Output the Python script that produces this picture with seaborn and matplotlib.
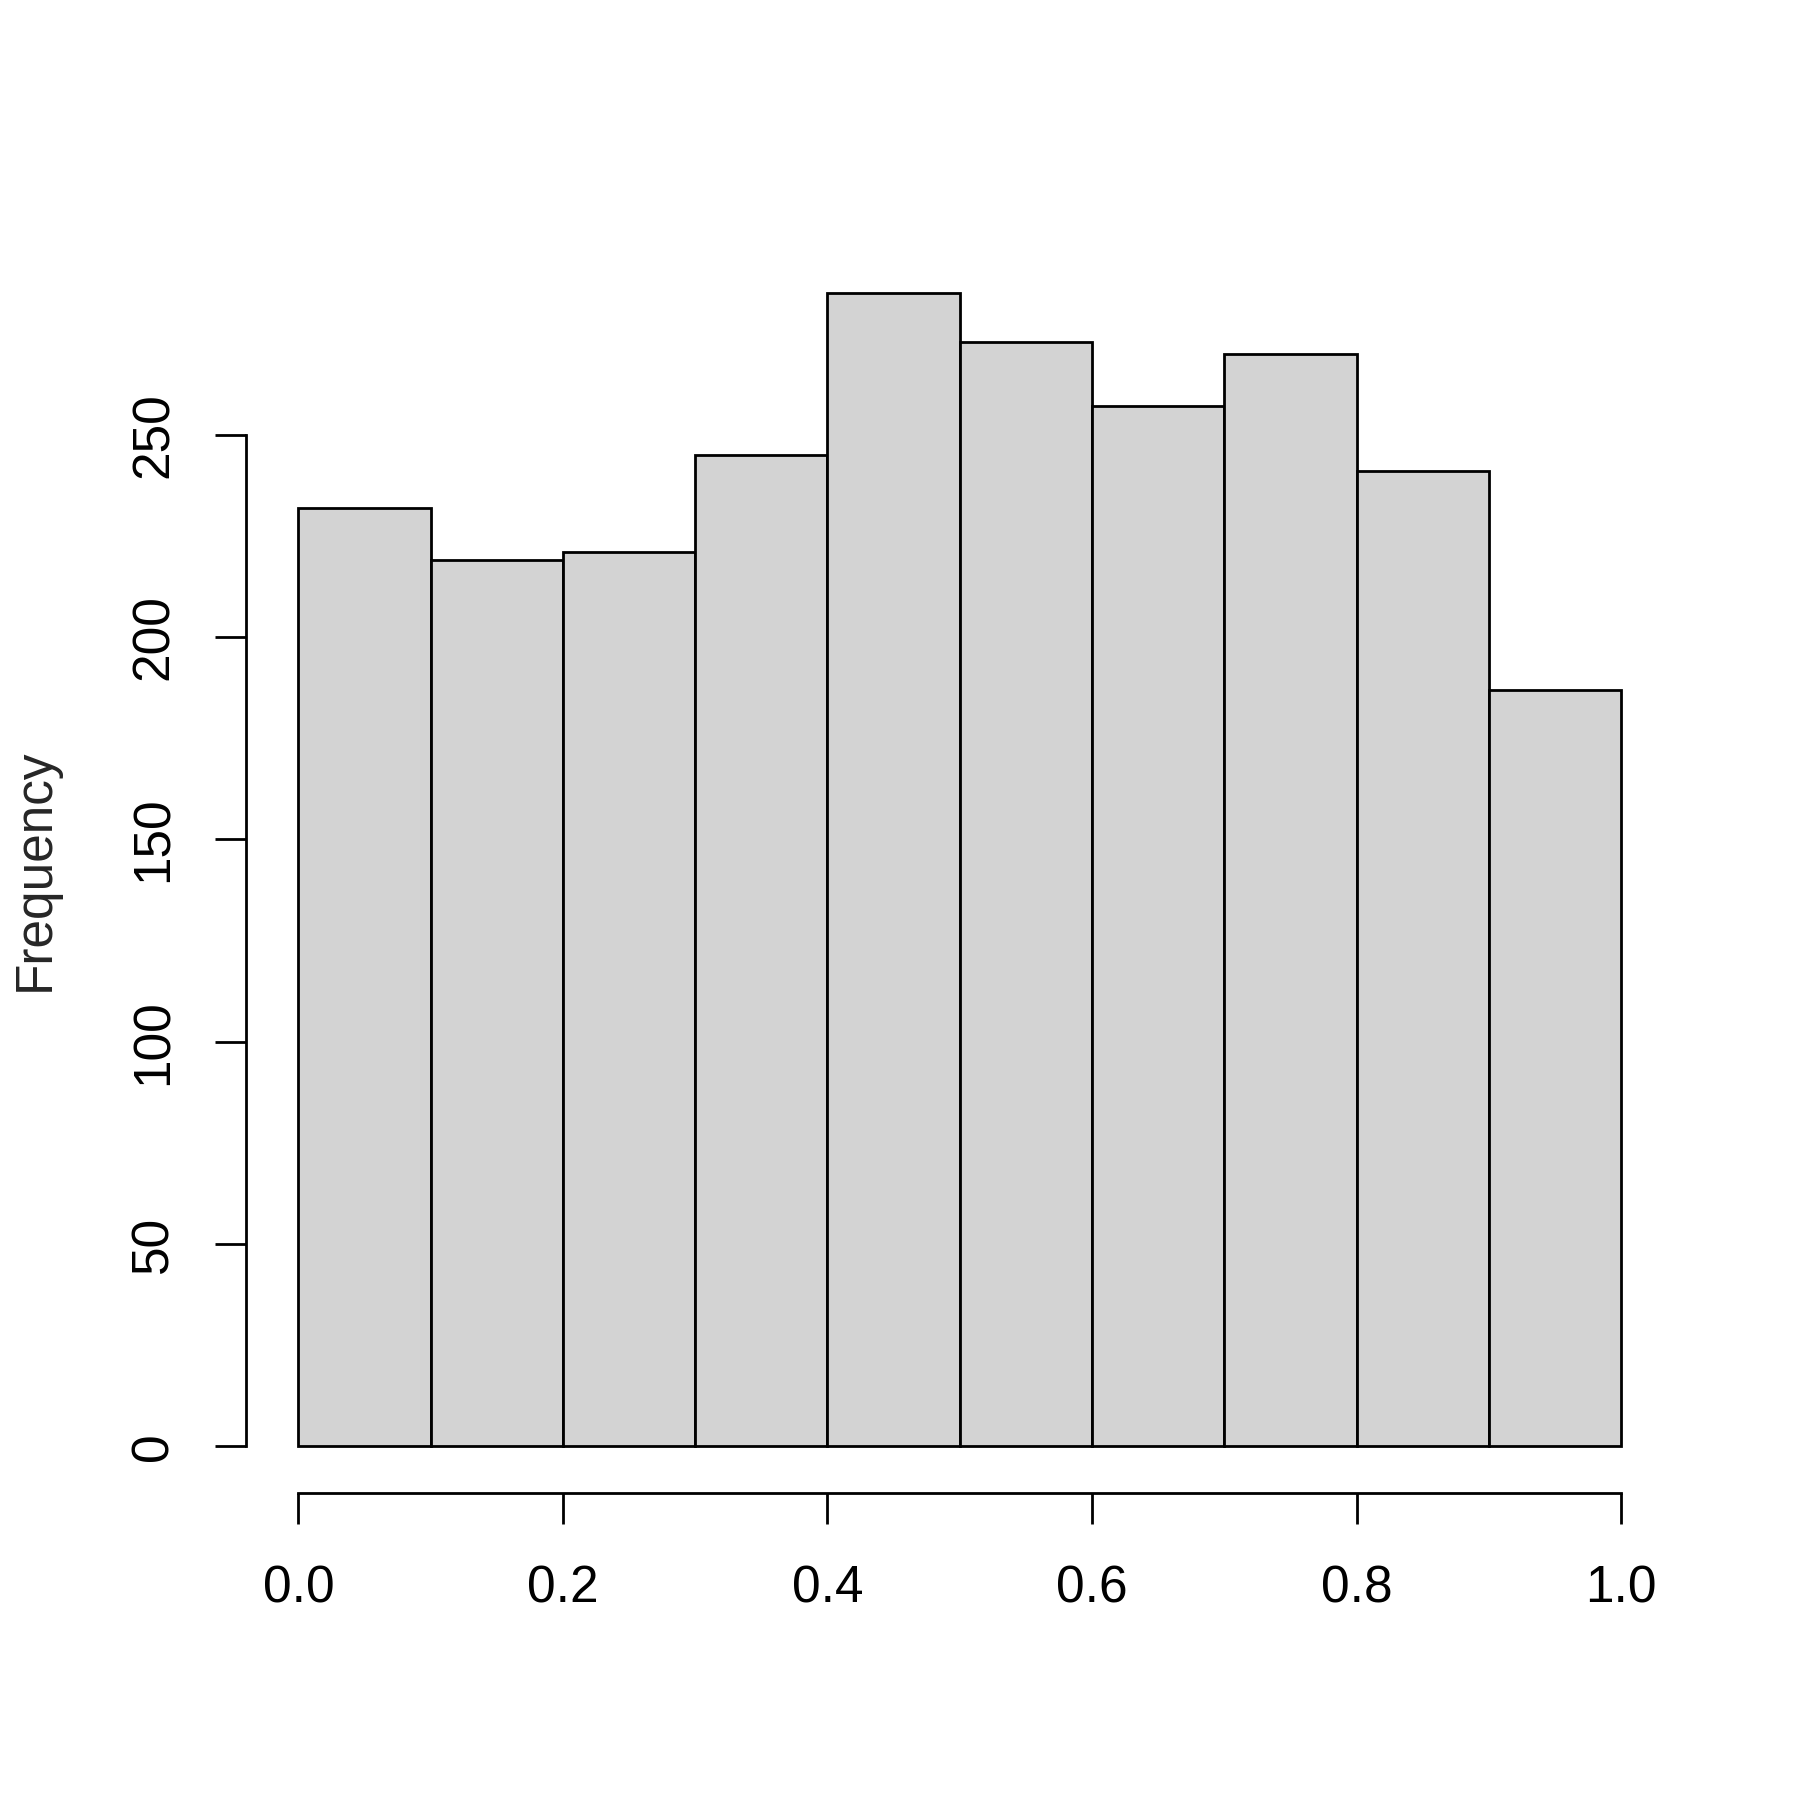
import numpy as np
import pandas as pd
import seaborn as sb
import matplotlib
matplotlib.use('Agg')
import matplotlib.pyplot as plt

# histogram
bin_edges = [0.0, 0.1, 0.2, 0.3, 0.4, 0.5, 0.6, 0.7, 0.8, 0.9, 1.0]
counts = [232, 219, 221, 245, 285, 273, 257, 270, 241, 187]
x_ticks = [0.0, 0.2, 0.4, 0.6, 0.8, 1.0]
x_tick_labels = ["0.0", "0.2", "0.4", "0.6", "0.8", "1.0"]
y_ticks = [0, 50, 100, 150, 200, 250]
y_label = "Frequency"

sb.set_style("white")
plt.rcParams['font.family'] = ['Liberation Sans', 'DejaVu Sans']

centers = [(bin_edges[i] + bin_edges[i + 1]) / 2 for i in range(len(counts))]
df = pd.DataFrame({"x": centers, "n": counts})

fig = plt.figure(figsize=(18, 18), dpi=100)
ax = fig.add_axes([0.1364, 0.1708, 0.7936, 0.692])

sb.histplot(data=df, x="x", weights="n", bins=bin_edges, color="#D3D3D3",
            edgecolor="black", linewidth=2.0, alpha=1, ax=ax)

# R style: 4% padding around data range
ax.set_xlim(-0.04, 1.04)
top = max(counts)
ax.set_ylim(-0.04 * top, top * 1.04)

for side in ["top", "right"]:
    ax.spines[side].set_visible(False)
ax.spines["left"].set_bounds(0, 250)
ax.spines["bottom"].set_bounds(0, 1)
for side in ["left", "bottom"]:
    ax.spines[side].set_linewidth(2.0)
    ax.spines[side].set_color("black")

ax.set_xticks(x_ticks)
ax.set_xticklabels(x_tick_labels)
ax.set_yticks(y_ticks)
ax.set_yticklabels([str(v) for v in y_ticks], rotation=90, va="center")
ax.tick_params(axis="both", which="both", direction="out", length=22, width=2.0,
               labelsize=37, color="black", labelcolor="black",
               bottom=True, left=True)
ax.tick_params(axis="x", pad=30)
ax.tick_params(axis="y", pad=26)

ax.set_xlabel("")
ax.set_ylabel(y_label, fontsize=37)
ax.yaxis.set_label_coords(-0.130, 0.5)

fig.savefig("out.png", dpi=100, facecolor="white")
